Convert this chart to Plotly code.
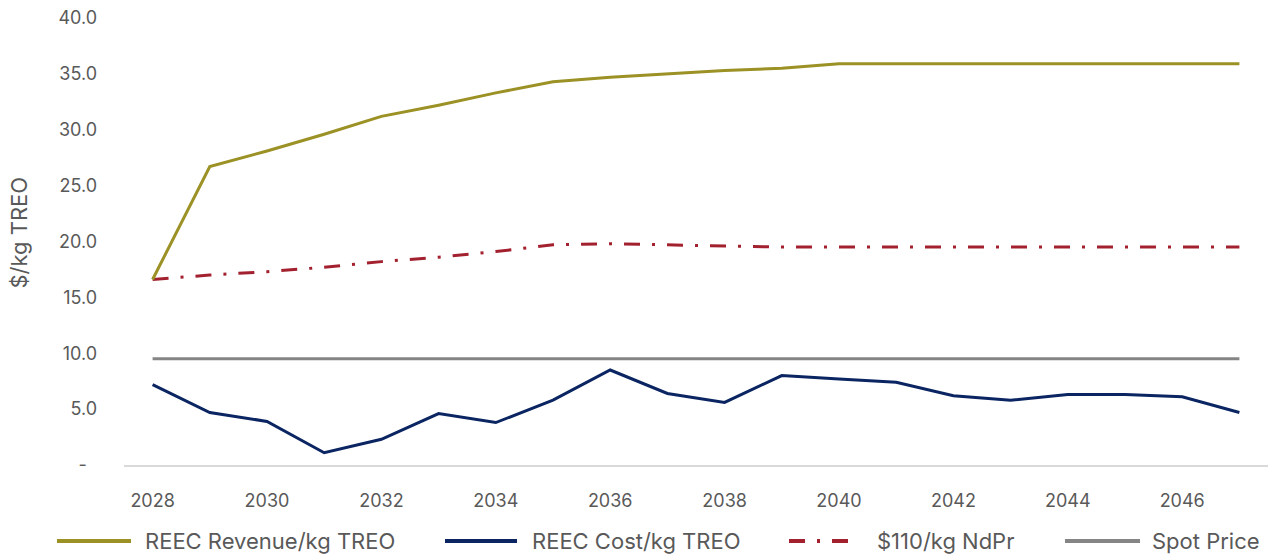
import plotly.graph_objects as go

# ---- data ----
years = list(range(2028, 2048))
revenue_per_kg = [16.6, 26.7, 28.1, 29.6, 31.2, 32.2, 33.3, 34.3, 34.7, 35.0,
                  35.3, 35.5, 35.9, 35.9, 35.9, 35.9, 35.9, 35.9, 35.9, 35.9]
cost_per_kg = [7.2, 4.7, 3.9, 1.1, 2.3, 4.6, 3.8, 5.8, 8.5, 6.4,
               5.6, 8.0, 7.7, 7.4, 6.2, 5.8, 6.3, 6.3, 6.1, 4.7]
ndpr_110 = [16.6, 17.0, 17.3, 17.7, 18.2, 18.6, 19.1, 19.7, 19.8, 19.7,
            19.6, 19.5, 19.5, 19.5, 19.5, 19.5, 19.5, 19.5, 19.5, 19.5]
spot_price = [9.5] * len(years)

series_names = ["REEC Revenue/kg TREO", "REEC Cost/kg TREO", "$110/kg NdPr", "Spot Price"]
y_tick_vals = [0, 5, 10, 15, 20, 25, 30, 35, 40]
y_tick_text = ["-\u00a0\u00a0", "5.0", "10.0", "15.0", "20.0", "25.0", "30.0", "35.0", "40.0"]
x_tick_vals = list(range(2028, 2047, 2))

# ---- styling ----
W, H = 1271, 557
ML, MR, MT, MB = 124, 3, 18, 92
FONT = "Inter"
TXT = "#595959"
OLIVE = "#9B9125"
NAVY = "#0A2562"
RED = "#A3212F"
GREY = "#858585"
DASHDOT = "16px,12px,3px,12px"

styles = [
    dict(color=OLIVE, width=3),
    dict(color=NAVY, width=3),
    dict(color=RED, width=3, dash=DASHDOT),
    dict(color=GREY, width=3),
]
values = [revenue_per_kg, cost_per_kg, ndpr_110, spot_price]

fig = go.Figure()
# spot price and NdPr drawn first so revenue/cost sit on top
for idx in [3, 2, 1, 0]:
    fig.add_trace(go.Scatter(
        x=years, y=values[idx], name=series_names[idx], mode="lines",
        line=styles[idx], showlegend=False, hoverinfo="x+y+name",
    ))

pw = W - ML - MR
ph = H - MT - MB


def px_x(p):
    return (p - ML) / pw


def px_y(p):
    return (H - MB - p) / ph


# legend row drawn as line samples + labels
legend_y = 541
legend_items = [  # (line start, line end, text start)
    (57, 131, 143),
    (445, 517, 530),
    (789, 848, 875),
    (1065, 1140, 1150),
]
shapes = []
annotations = []
for (x0, x1, tx), name, st in zip(legend_items, series_names, styles):
    shapes.append(dict(
        type="line", xref="paper", yref="paper",
        x0=px_x(x0), x1=px_x(x1), y0=px_y(legend_y), y1=px_y(legend_y),
        line=dict(color=st["color"], width=4, dash=st.get("dash", "solid")),
    ))
    annotations.append(dict(
        text=name, xref="paper", yref="paper", x=px_x(tx), y=px_y(legend_y),
        xanchor="left", yanchor="middle", showarrow=False,
        font=dict(family=FONT, size=22, color=TXT),
    ))

annotations.append(dict(
    text="$/kg TREO", xref="paper", yref="paper", x=px_x(19), y=0.52,
    xanchor="center", yanchor="middle", textangle=-90, showarrow=False,
    font=dict(family=FONT, size=22, color=TXT),
))

fig.update_layout(
    width=W, height=H,
    margin=dict(l=ML, r=MR, t=MT, b=MB),
    paper_bgcolor="white", plot_bgcolor="white",
    font=dict(family=FONT, size=18, color=TXT),
    shapes=shapes, annotations=annotations,
    showlegend=False,
)
fig.update_xaxes(
    range=[2027.5, 2047.5], tickvals=x_tick_vals, ticktext=[str(v) for v in x_tick_vals],
    showgrid=False, zeroline=False, showline=True, linecolor="#D9D9D9", linewidth=2,
    ticks="", ticklabelstandoff=18, tickfont=dict(family=FONT, size=18, color=TXT),
)
fig.update_yaxes(
    range=[0, 40], tickvals=y_tick_vals, ticktext=y_tick_text,
    showgrid=False, zeroline=False, showline=False,
    ticks="", ticklabelstandoff=26, tickfont=dict(family=FONT, size=18, color=TXT),
)

fig.write_html("out.html")
